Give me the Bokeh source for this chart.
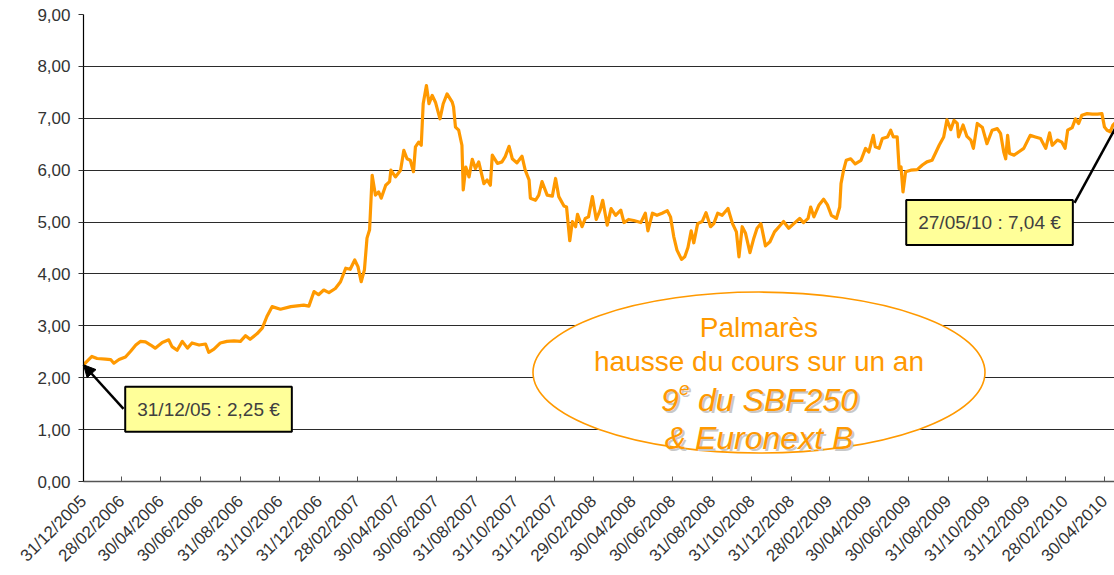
import math
import pandas as pd
from bokeh.plotting import figure
from bokeh.models import Range1d, FixedTicker, Label, Arrow, NormalHead
from bokeh.embed import file_html
from bokeh.resources import INLINE

# ---------------- data ----------------
START = pd.Timestamp("2005-12-31")

TICK_LABELS = [
    "31/12/2005", "28/02/2006", "30/04/2006", "30/06/2006", "31/08/2006",
    "31/10/2006", "31/12/2006", "28/02/2007", "30/04/2007", "30/06/2007",
    "31/08/2007", "31/10/2007", "31/12/2007", "29/02/2008", "30/04/2008",
    "30/06/2008", "31/08/2008", "31/10/2008", "31/12/2008", "28/02/2009",
    "30/04/2009", "30/06/2009", "31/08/2009", "31/10/2009", "31/12/2009",
    "28/02/2010", "30/04/2010",
]

# days since 31/12/2005
DAYS = [
    0, 13, 21, 34, 42, 47, 55, 65, 73, 81, 88, 96, 104, 111, 122, 132, 137, 145,
    153, 161, 168, 179, 189, 194, 202, 212, 222, 233, 243, 251, 258, 269, 277,
    284, 292, 305, 321, 341, 349, 357, 364, 372, 380, 390, 398, 406, 413, 420,
    425, 430, 435, 439, 443, 447, 452, 457, 461, 468, 474, 476, 483, 491, 496,
    501, 506, 511, 514, 519, 523, 526, 531, 535, 540, 545, 552, 557, 563, 571,
    573, 576, 581, 586, 588, 592, 597, 602, 607, 612, 620, 625, 630, 633, 641,
    648, 653, 659, 664, 671, 679, 684, 690, 692, 700, 705, 710, 718, 726, 731,
    736, 744, 748, 753, 757, 762, 765, 772, 777, 782, 788, 794, 800, 804, 811,
    817, 824, 832, 837, 844, 852, 863, 870, 874, 881, 888, 896, 904, 909, 914,
    919, 926, 931, 936, 941, 945, 951, 958, 964, 971, 976, 982, 989, 998, 1005,
    1011, 1015, 1020, 1025, 1032, 1038, 1043, 1049, 1056, 1063, 1070, 1077,
    1084, 1092, 1100, 1109, 1115, 1122, 1126, 1131, 1139, 1146, 1152, 1158,
    1166, 1171, 1173, 1177, 1181, 1188, 1195, 1204, 1211, 1216, 1223, 1226,
    1232, 1237, 1245, 1250, 1254, 1260, 1263, 1266, 1269, 1273, 1281, 1291,
    1299, 1306, 1314, 1319, 1325, 1332, 1337, 1343, 1348, 1353, 1355, 1362,
    1368, 1374, 1378, 1384, 1392, 1399, 1407, 1415, 1420, 1425, 1428, 1431,
    1434, 1441, 1448, 1456, 1466, 1474, 1482, 1490, 1496, 1500, 1508, 1515,
    1520, 1524, 1531, 1536, 1541, 1546, 1554, 1562, 1570, 1577, 1581, 1585,
    1590, 1594, 1608,
]

PRICES = [
    2.25, 2.41, 2.37, 2.36, 2.35, 2.28, 2.35, 2.40, 2.51, 2.63, 2.70, 2.69, 2.63,
    2.57, 2.68, 2.73, 2.60, 2.53, 2.70, 2.57, 2.67, 2.63, 2.65, 2.49, 2.55, 2.67,
    2.70, 2.71, 2.70, 2.81, 2.74, 2.85, 2.96, 3.18, 3.37, 3.32, 3.37, 3.40, 3.38,
    3.66, 3.60, 3.69, 3.64, 3.72, 3.85, 4.11, 4.09, 4.27, 4.14, 3.85, 4.08, 4.69,
    4.85, 5.90, 5.52, 5.58, 5.46, 5.71, 5.78, 6.00, 5.87, 6.00, 6.38, 6.22, 6.19,
    5.97, 6.45, 6.54, 6.48, 7.28, 7.63, 7.28, 7.44, 7.31, 6.99, 7.28, 7.47, 7.31,
    7.22, 6.83, 6.77, 6.48, 5.62, 6.06, 5.87, 6.21, 6.03, 6.16, 5.74, 5.81, 5.71,
    6.29, 6.13, 6.16, 6.26, 6.46, 6.22, 6.14, 6.27, 6.00, 5.81, 5.46, 5.42, 5.52,
    5.78, 5.52, 5.50, 5.84, 5.49, 5.31, 5.29, 4.64, 5.01, 4.91, 5.15, 4.91, 5.07,
    5.10, 5.49, 5.05, 5.23, 5.42, 4.94, 5.26, 5.13, 5.23, 4.99, 5.05, 5.03, 4.99,
    5.17, 4.83, 5.17, 5.13, 5.17, 5.22, 5.10, 4.72, 4.46, 4.28, 4.33, 4.51, 4.83,
    4.60, 4.97, 5.01, 5.18, 4.91, 4.97, 5.17, 5.13, 5.26, 4.97, 4.81, 4.33, 4.91,
    4.79, 4.41, 4.69, 4.88, 4.97, 4.54, 4.62, 4.81, 4.91, 5.01, 4.88, 4.97, 5.07,
    4.99, 5.07, 5.29, 5.10, 5.33, 5.44, 5.33, 5.13, 5.07, 5.29, 5.74, 6.00, 6.19,
    6.22, 6.12, 6.19, 6.42, 6.35, 6.67, 6.45, 6.42, 6.61, 6.64, 6.77, 6.64, 6.64,
    6.03, 6.06, 5.58, 5.97, 6.00, 6.01, 6.10, 6.16, 6.19, 6.32, 6.48, 6.64, 6.97,
    6.78, 6.96, 6.90, 6.64, 6.87, 6.65, 6.58, 6.42, 6.90, 6.82, 6.51, 6.77, 6.80,
    6.71, 6.35, 6.22, 6.67, 6.32, 6.29, 6.35, 6.42, 6.67, 6.64, 6.61, 6.42, 6.72,
    6.48, 6.58, 6.54, 6.42, 6.77, 6.82, 6.99, 6.90, 7.06, 7.09, 7.08, 7.08, 7.09,
    6.83, 6.77, 6.74, 6.87, 7.04,
]

Y_TICKS = [0, 1, 2, 3, 4, 5, 6, 7, 8, 9]
Y_TICK_LABELS = ["0,00", "1,00", "2,00", "3,00", "4,00", "5,00", "6,00", "7,00", "8,00", "9,00"]

FIRST_TEXT = "31/12/05 : 2,25 €"
LAST_TEXT = "27/05/10 : 7,04 €"
BUBBLE_LINES = ["Palmarès", "hausse du cours sur un an", "9", "e", "du SBF250", "& Euronext B"]

# annotation anchors (days, value)
BOX1_POS = (193.6, 1.394)
BOX1_ARROW_START = (62, 1.40)
BOX2_POS = (1403, 4.99)
BOX2_LINE_START = (1534.6, 5.37)
ELLIPSE_POS = (1046, 2.1)

ORANGE = "#FF9900"
FONT = "Liberation Sans"

tick_days = [int((pd.to_datetime(s, format="%d/%m/%Y") - START).days) for s in TICK_LABELS]

# ---------------- figure ----------------
p = figure(width=1114, height=575, output_backend="svg", toolbar_location=None,
           x_range=Range1d(0, 1596.5), y_range=Range1d(0, 9),
           min_border_left=83, min_border_right=0, min_border_top=14,
           min_border_bottom=93)
p.outline_line_color = None
p.background_fill_color = "white"
p.border_fill_color = "white"

xa = p.xaxis[0]
xa.ticker = FixedTicker(ticks=tick_days)
xa.major_label_overrides = {d: s for d, s in zip(tick_days, TICK_LABELS)}
xa.major_label_orientation = math.pi / 4
xa.major_label_text_font = FONT
xa.major_label_text_font_size = "17px"
xa.major_label_text_color = "#333333"
xa.major_label_standoff = 17
xa.axis_line_color = "#555555"
xa.axis_line_width = 1.5
xa.major_tick_in = 5
xa.major_tick_out = 0
xa.major_tick_line_color = "#555555"
xa.minor_tick_line_color = None

ya = p.yaxis[0]
ya.ticker = FixedTicker(ticks=Y_TICKS)
ya.major_label_overrides = {v: s for v, s in zip(Y_TICKS, Y_TICK_LABELS)}
ya.major_label_text_font = FONT
ya.major_label_text_font_size = "17px"
ya.major_label_text_color = "#333333"
ya.major_label_standoff = 8
ya.axis_line_color = "black"
ya.axis_line_width = 1.2
ya.major_tick_in = 0
ya.major_tick_out = 5
ya.major_tick_line_color = "#333333"
ya.minor_tick_line_color = None

p.xgrid.grid_line_color = None
p.ygrid.ticker = ya.ticker
p.ygrid.grid_line_color = "#2b2b2b"
p.ygrid.grid_line_width = 1

# price line
p.line(DAYS, PRICES, line_color=ORANGE, line_width=3.2, line_join="round")

# bubble
p.ellipse(x=[ELLIPSE_POS[0]], y=[ELLIPSE_POS[1]], width=452, height=161,
          width_units="screen", height_units="screen",
          fill_color="white", line_color=ORANGE, line_width=1.6)


def lab(text, dx, dy, size, style="normal", color=ORANGE, align="center"):
    p.add_layout(Label(x=ELLIPSE_POS[0], y=ELLIPSE_POS[1], x_offset=dx, y_offset=dy,
                       text=text, text_font=FONT, text_font_size=f"{size}px",
                       text_font_style=style, text_color=color, text_align=align,
                       text_baseline="alphabetic"))


lab(BUBBLE_LINES[0], 0, 44.8, 28)
lab(BUBBLE_LINES[1], 0, 10.8, 28)
SHADOW = "#C8C8C8"
for col, ox, oy in [(SHADOW, 2, -2), (ORANGE, 0, 0)]:
    lab(BUBBLE_LINES[2], -98 + ox, -27.2 + oy, 32, "italic", col, "left")
    lab(BUBBLE_LINES[3], -80 + ox, -16.2 + oy, 19, "italic", col, "left")
    lab(BUBBLE_LINES[4], -61 + ox, -27.2 + oy, 32, "italic", col, "left")
    lab(BUBBLE_LINES[5], 0 + ox, -65.2 + oy, 32, "italic", col, "center")

# callout boxes
for text, pos in [(FIRST_TEXT, BOX1_POS), (LAST_TEXT, BOX2_POS)]:
    p.add_layout(Label(x=pos[0], y=pos[1], text=text, text_font=FONT,
                       text_font_size="19px", text_color="#404040",
                       text_align="center", text_baseline="middle",
                       background_fill_color="#FFFF99", border_line_color="black",
                       border_line_width=2, padding=12))

p.add_layout(Arrow(x_start=BOX1_ARROW_START[0], y_start=BOX1_ARROW_START[1],
                   x_end=DAYS[0], y_end=PRICES[0], line_color="black", line_width=2.5,
                   end=NormalHead(size=12, fill_color="black", line_color="black")))
p.add_layout(Arrow(x_start=BOX2_LINE_START[0], y_start=BOX2_LINE_START[1],
                   x_end=DAYS[-1], y_end=PRICES[-1], line_color="black", line_width=2.5,
                   end=None))

open("out.html", "w").write(file_html(p, INLINE))
